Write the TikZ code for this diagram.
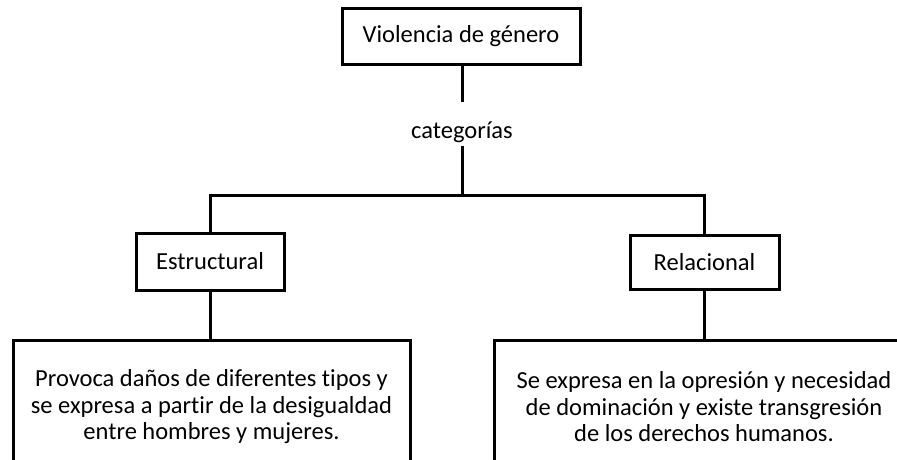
\documentclass[tikz,border=0pt]{standalone}
\usepackage{fontspec}
\setmainfont{Carlito}[Ligatures=NoCommon]
\begin{document}
\begin{tikzpicture}[x=1pt,y=-1pt,
  box/.style={draw,line width=3pt,fill=white,inner sep=0pt,align=center,font=\fontsize{24.5}{26.5}\selectfont},
  lbl/.style={inner sep=0pt,font=\fontsize{24.5}{26.5}\selectfont},
  conn/.style={line width=3pt}]
\useasboundingbox (0,0) rectangle (897,459);
\clip (0,0) rectangle (897,459);
\node[box,minimum width=238pt,minimum height=56pt] (top) at (461,36) {Violencia de género};
\node[lbl] (cat) at (462,132) {categorías};
\coordinate (j) at (462,195);
\node[box,minimum width=148pt,minimum height=57pt] (est) at (210,261.5) {Estructural};
\node[box,minimum width=149pt,minimum height=54pt] (rel) at (704.5,262) {Relacional};
\node[box,minimum width=397pt,minimum height=134pt] (dl) at (211.5,407) {Provoca daños de diferentes tipos y\\se expresa a partir de la desigualdad\\entre hombres y mujeres.};
\node[box,minimum width=420pt,minimum height=134pt] (dr) at (704,407) {Se expresa en la opresión y necesidad\\de dominación y existe transgresión\\de los derechos humanos.};
\draw[conn] (top.south -| j) -- ++(0,36);
\draw[conn] (j |- cat.south) ++(0,3) -- (j);
\draw[conn] (est.north) |- (j) -| (rel.north);
\draw[conn] (est.south) -- (dl.north -| est.south);
\draw[conn] (rel.south) -- (dr.north -| rel.south);
\end{tikzpicture}
\end{document}
